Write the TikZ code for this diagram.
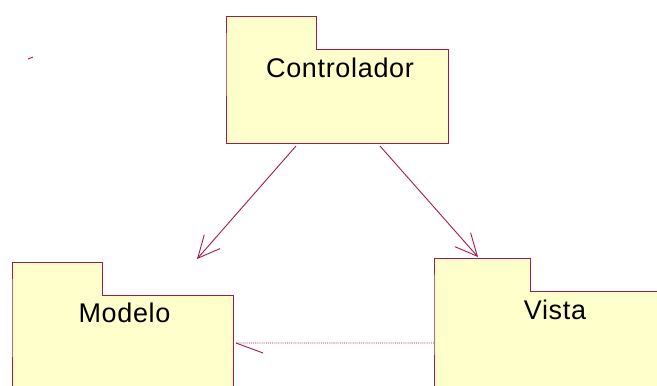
\documentclass[tikz,border=0pt]{standalone}
\usepackage{fontspec}
\setmainfont{Liberation Sans}[LetterSpace=2.5]
\usetikzlibrary{arrows.meta,
                positioning}

\definecolor{pkgborder}{RGB}{165,25,75}
\definecolor{pkgyellow}{RGB}{255,255,204}

% outline of a package: body plus the tab on its upper left corner
\newcommand{\pkgshape}[2]{%
  \draw[pkgline,fill=pkgyellow] (#1.south west) -- (#1.north west) -- ++(0,-33)
     -- ++(#2,0) -- ++(0,33) -- (#1.north east) -- (#1.south east) -- cycle;}

\begin{document}
\begin{tikzpicture}[x=1bp,y=-1bp,
    pkgline/.style={draw=pkgborder,line width=0.9bp,line join=miter},
    pkgbody/.style={inner sep=0,outer sep=0},
    pkgname/.style={inner sep=0,text height=19bp,text depth=0pt,
                    font=\fontsize{27bp}{30bp}\selectfont},
    dep/.style={pkgline,-{Straight Barb[length=22bp,width=21bp]}},
    usedep/.style={pkgline,densely dotted}]
 \useasboundingbox (0,0) rectangle (657,385);

 \node[pkgbody,minimum width=222bp,minimum height=94bp] (ctrl) at (337,96) {};
 \node[pkgbody,minimum width=221bp,minimum height=125bp] (modelo) at (122.5,357.5) {};
 \node[pkgbody,minimum width=246bp,minimum height=129bp] (vista) at (557,355.5) {};

 \pkgshape{ctrl}{90}
 \pkgshape{modelo}{90}
 \pkgshape{vista}{96}

 \node[pkgname,below=9.5bp of ctrl.north,xshift=3bp] (ctrlname) {Controlador};
 \node[pkgname,below=8.5bp of modelo.north,xshift=2bp] (modeloname) {Modelo};
 \node[pkgname,below=9.5bp of vista.north,xshift=-2bp] (vistaname) {Vista};

 % dependencies
 \draw[dep] ([xshift=-41bp,yshift=-3bp]ctrl.south) -- ([xshift=-36bp,yshift=36bp]modelo.north east);
 \draw[dep] ([xshift=43bp,yshift=-3bp]ctrl.south) -- ([xshift=44bp,yshift=34bp]vista.north west);
 \coordinate (usetip) at ([xshift=3bp,yshift=14.5bp]modelo.east);
 \draw[usedep] ([yshift=12.5bp]vista.west) -- (usetip);
 \draw[pkgline] (usetip) -- ++(27,10);

 \draw[pkgline] (28,59) -- (33,57);
\end{tikzpicture}
\end{document}
